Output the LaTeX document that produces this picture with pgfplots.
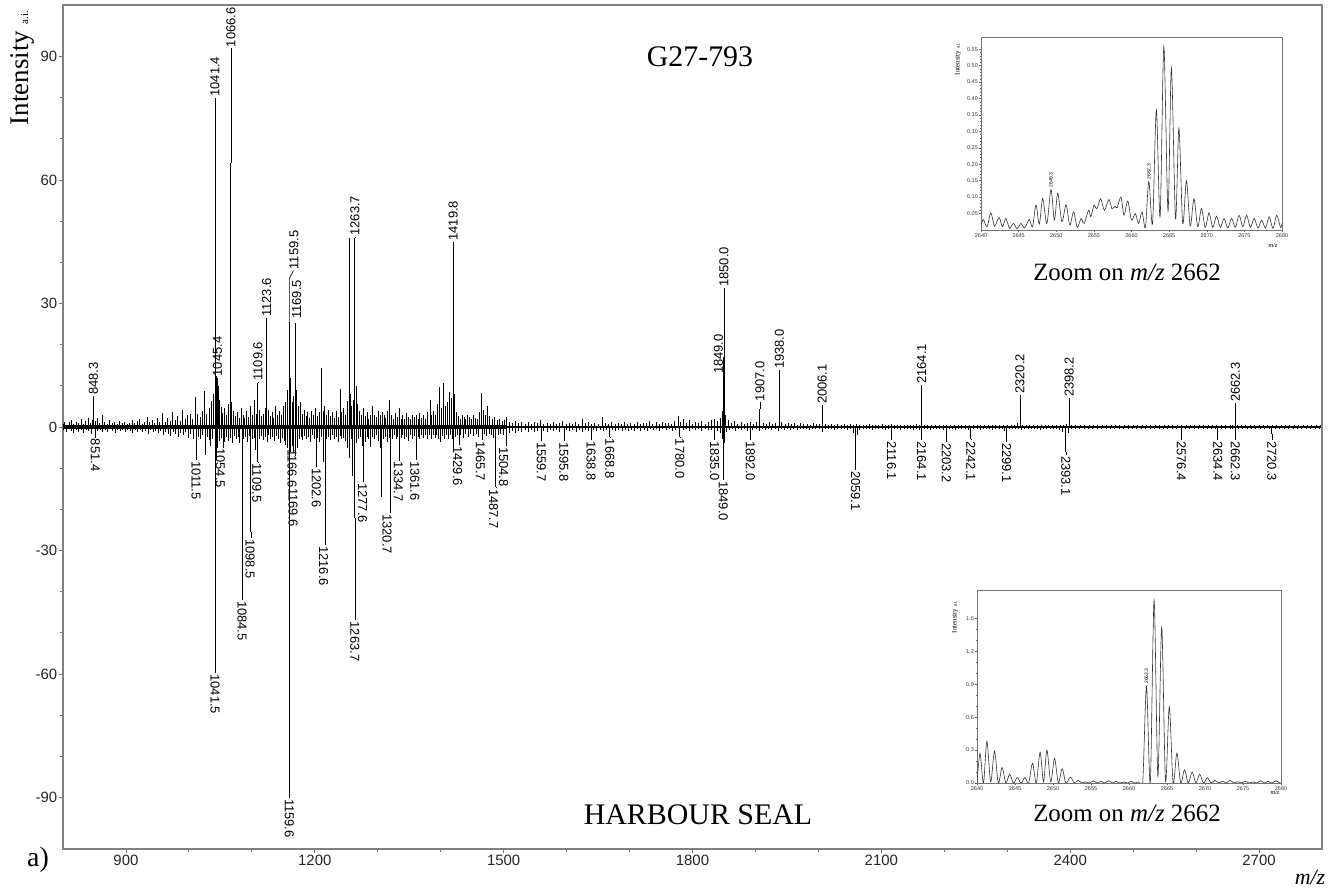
\documentclass[border=0pt]{standalone}
\usepackage{fontspec}
\setmainfont{Liberation Serif}
\newfontfamily\sans{Liberation Sans}
\usepackage{pgfplots}
\usepackage{pgfplotstable}
\pgfplotsset{compat=1.18}

\pgfplotstableread{
m h
800 0.8
803 1.3
807 0.6
810 1.1
814 1.6
817 0.7
821 1.2
825 0.9
829 1.9
832 0.8
836 1.4
840 2.3
843 1.0
846 1.8
848.3 7.0
851 1.5
855 2.2
858 0.9
862 3.0
866 1.2
870 0.8
874 1.6
878 1.0
882 1.3
886 0.7
890 1.5
894 0.9
898 1.2
902 0.8
906 1.0
910 1.8
914 0.9
918 1.4
922 2.0
926 0.8
930 1.3
934 2.5
938 1.1
942 1.6
946 0.9
950 2.1
954 1.3
958 3.3
962 1.1
966 2.3
970 1.5
974 3.6
978 1.8
982 2.7
986 1.4
990 4.2
994 2.0
998 2.8
1002 3.2
1006 2.0
1010 7.2
1014 3.1
1018 2.4
1022 4.0
1025 8.8
1028 3.2
1032 4.6
1036 6.2
1039 8.0
1041.4 47.0
1042.5 20.0
1043.5 12.5
1045.4 11.5
1046.5 10.0
1048 6.5
1051 4.8
1054 3.5
1057 4.6
1060 3.0
1063 5.5
1066.6 64.0
1068 6.0
1071 4.0
1074 2.6
1077 3.6
1080 2.2
1083 4.6
1086 3.0
1089 2.2
1092 3.8
1095 2.4
1098 5.0
1101 3.0
1104 6.5
1107 3.2
1109.6 10.8
1112 4.2
1115 2.6
1118 3.2
1121 4.5
1123.6 26.3
1126 4.2
1129 2.6
1132 3.6
1135 2.2
1138 5.0
1141 3.0
1144 4.0
1147 2.8
1150 5.2
1153 6.0
1156 9.0
1159.5 25.6
1161.5 12.0
1164 6.0
1166.5 7.5
1169.5 25.2
1171.5 9.0
1174 5.0
1177 6.0
1180 3.2
1183 4.2
1186 2.6
1189 3.6
1192 2.2
1195 4.0
1198 3.0
1201 4.5
1204 2.6
1207 3.6
1210 14.3
1213 4.0
1216 5.2
1219 3.0
1222 4.2
1225 2.6
1228 3.6
1231 2.2
1234 3.8
1237 2.4
1240 9.2
1243 3.6
1246 4.6
1249 3.0
1251.5 6.2
1254.6 45.8
1256.5 8.0
1259 5.0
1261.5 6.5
1263.7 46.0
1265.5 10.0
1268 5.5
1271 4.0
1274 3.0
1277 4.6
1280 2.6
1283 3.6
1286 2.0
1289 3.0
1292 5.0
1295 3.0
1298 2.4
1301 4.0
1304 2.8
1307 3.6
1310 3.0
1313 2.2
1316 4.0
1319 6.6
1322 3.0
1325 2.0
1328 3.4
1331 2.4
1334 4.6
1337 2.0
1340 3.0
1343 2.0
1346 3.4
1349 2.4
1352 2.0
1355 3.0
1358 2.4
1361 3.0
1364 2.0
1367 3.4
1370 2.2
1373 3.0
1376 2.0
1379 3.6
1383 6.6
1386 3.0
1389 4.0
1392 3.0
1395 5.6
1398 9.6
1401 4.6
1405 10.6
1408 5.0
1411 6.0
1414 8.6
1417 7.0
1419.8 44.6
1422 8.0
1425 3.6
1428 2.6
1431 2.0
1434 3.0
1437 2.4
1440 2.0
1443 3.0
1446 2.4
1449 2.0
1452 3.0
1455 2.2
1458 2.0
1461 3.6
1465 8.2
1468 4.2
1471 3.0
1475 5.2
1478 2.6
1482 2.0
1486 2.4
1490 1.6
1494 2.0
1498 1.4
1502 1.8
1505 2.4
1509 1.2
1514 1.0
1519 1.5
1524 0.9
1529 1.3
1534 0.8
1539 1.1
1544 0.7
1549 1.2
1554 0.9
1559 1.6
1564 0.8
1569 1.0
1574 0.7
1579 1.2
1584 0.8
1589 1.0
1594 1.4
1599 0.7
1604 1.0
1609 0.8
1614 1.1
1619 0.7
1625 2.0
1630 0.9
1635 1.2
1640 0.8
1645 1.0
1650 0.7
1657 2.5
1662 1.0
1667 0.8
1672 1.1
1677 0.7
1682 1.0
1687 0.8
1692 1.3
1697 0.7
1702 1.0
1707 0.8
1712 1.2
1717 0.7
1722 1.0
1727 0.9
1732 1.4
1737 0.8
1742 1.1
1747 0.7
1752 1.2
1757 0.9
1762 1.0
1767 0.7
1772 1.5
1777 2.6
1781 1.2
1786 2.0
1790 1.0
1795 1.6
1800 0.8
1805 1.2
1810 0.9
1815 1.4
1820 0.8
1825 1.1
1830 1.6
1835 2.0
1840 1.4
1844 2.2
1847 4.0
1849.0 17.0
1850.0 18.7
1851.5 8.0
1853 3.0
1857 1.6
1862 1.0
1867 1.4
1872 0.8
1877 1.1
1882 0.7
1887 1.0
1892 1.3
1897 0.8
1902 1.2
1907.0 4.3
1912 1.0
1917 0.8
1922 1.1
1927 0.7
1932 1.0
1938.0 12.5
1942 1.2
1947 0.8
1952 1.0
1957 0.7
1962 0.9
1967 0.6
1972 1.0
1977 0.7
1982 0.8
1987 0.6
1992 0.9
1997 0.7
2002 0.8
2006.1 3.8
2011 0.7
2016 0.6
2021 0.8
2026 0.5
2031 0.7
2036 0.6
2041 0.8
2046 0.5
2051 0.7
2056 0.6
2061 0.8
2066 0.5
2071 0.6
2076 0.5
2081 0.7
2086 0.5
2091 0.6
2096 0.5
2101 0.7
2106 0.5
2111 0.6
2116 0.8
2121 0.5
2126 0.6
2131 0.5
2136 0.6
2141 0.5
2146 0.6
2151 0.5
2156 0.7
2161 0.6
2164.1 4.6
2168 0.6
2174 0.4
2180 0.5
2186 0.4
2192 0.6
2198 0.4
2204 0.5
2210 0.4
2216 0.6
2222 0.4
2228 0.5
2234 0.4
2240 0.6
2246 0.4
2252 0.5
2258 0.4
2264 0.6
2270 0.4
2276 0.5
2282 0.4
2288 0.6
2294 0.4
2300 0.5
2306 0.4
2312 0.6
2316 0.9
2320.2 2.5
2324 0.6
2330 0.4
2336 0.5
2342 0.4
2348 0.6
2354 0.4
2360 0.5
2366 0.4
2372 0.6
2378 0.4
2384 0.5
2390 0.4
2394 0.8
2398.2 2.8
2402 0.6
2409 0.4
2416 0.5
2423 0.4
2430 0.5
2437 0.4
2444 0.5
2451 0.4
2458 0.5
2465 0.4
2472 0.5
2479 0.4
2486 0.5
2493 0.4
2500 0.5
2507 0.4
2514 0.5
2521 0.4
2528 0.5
2535 0.4
2542 0.5
2549 0.4
2556 0.5
2563 0.4
2570 0.5
2577 0.4
2584 0.5
2591 0.4
2598 0.5
2605 0.4
2612 0.5
2619 0.4
2626 0.5
2633 0.4
2640 0.5
2647 0.4
2654 0.5
2658 0.6
2662.3 1.8
2666 0.6
2672 0.4
2679 0.5
2686 0.4
2693 0.5
2700 0.4
2707 0.5
2714 0.4
2721 0.5
2728 0.4
2735 0.5
2742 0.4
2749 0.5
2756 0.4
2763 0.5
2770 0.4
2777 0.5
2784 0.4
2791 0.5
2798 0.4
}\posdata

\pgfplotstableread{
m h
801 -0.8
805 -1.2
809 -0.6
813 -1.0
817 -1.5
821 -0.7
825 -1.1
829 -0.8
833 -1.4
837 -0.7
841 -1.0
845 -1.6
851.4 -2.4
855 -1.0
859 -0.7
863 -1.3
867 -0.8
871 -1.1
875 -0.6
879 -1.0
883 -1.4
887 -0.7
891 -1.0
895 -0.8
899 -1.2
903 -0.7
907 -1.0
911 -1.5
915 -0.8
919 -1.1
923 -0.7
927 -1.3
931 -0.9
935 -1.6
939 -0.8
943 -1.2
947 -0.9
951 -1.5
955 -1.0
959 -2.0
963 -1.1
967 -1.6
971 -2.2
975 -1.2
979 -1.8
983 -2.5
987 -1.4
991 -2.0
995 -1.3
999 -2.6
1003 -1.8
1007 -3.0
1011.5 -7.8
1015 -2.4
1019 -3.0
1022 -2.0
1025.5 -6.8
1029 -2.5
1032 -3.2
1035 -4.5
1038 -3.0
1041.5 -42.0
1043 -8.0
1045 -5.0
1048 -3.5
1051 -2.6
1054.5 -4.8
1057 -3.6
1060 -2.4
1063 -3.4
1066 -2.6
1069 -3.8
1072 -2.2
1075 -3.0
1078 -2.4
1081 -4.0
1084.5 -27.0
1087 -3.0
1090 -2.4
1093 -3.6
1096 -2.2
1098.5 -25.5
1101 -3.0
1104 -2.6
1106 -5.5
1109.5 -8.4
1112 -3.0
1115 -2.2
1118 -3.2
1121 -2.4
1124 -3.6
1127 -2.0
1130 -3.0
1133 -2.4
1136 -3.4
1139 -2.2
1142 -3.0
1145 -4.0
1148 -2.6
1151 -3.4
1154 -4.4
1157 -5.0
1159.6 -68.0
1162 -6.0
1164 -4.6
1166.6 -6.2
1169.6 -7.0
1172 -5.0
1175 -3.0
1178 -2.4
1181 -3.2
1184 -2.2
1187 -3.0
1190 -2.4
1193 -3.6
1196 -2.0
1199 -3.0
1202.6 -9.0
1205 -2.6
1208 -3.6
1211 -2.4
1213.5 -8.5
1216.6 -28.5
1219 -3.0
1222 -2.4
1225 -3.2
1228 -2.0
1231 -3.0
1234 -2.4
1237 -3.6
1240 -2.2
1243 -3.0
1246 -2.6
1249 -3.4
1252 -5.0
1255 -7.5
1258 -3.0
1260.5 -12.0
1263.7 -22.0
1266 -4.0
1269 -3.0
1272 -2.4
1275 -4.5
1277.6 -13.2
1280 -3.6
1283 -2.4
1286 -3.0
1289 -4.8
1292 -2.4
1295 -3.0
1298 -2.0
1301 -3.4
1303.5 -5.0
1306 -17.0
1309 -3.0
1312 -2.4
1315 -3.6
1318 -2.6
1320.7 -6.5
1323 -3.0
1326 -2.0
1329 -3.0
1332 -2.4
1334.7 -8.0
1337 -2.6
1340 -2.0
1343 -3.0
1346 -2.4
1349 -3.4
1352 -2.0
1355 -2.8
1358 -2.2
1361.6 -7.8
1364 -2.4
1367 -3.0
1370 -2.0
1373 -2.6
1376 -2.0
1379 -2.8
1382 -2.0
1385 -3.0
1388 -2.0
1391 -2.6
1394 -2.0
1397 -2.8
1400 -3.6
1403 -2.2
1406 -3.0
1409 -2.0
1412 -2.8
1415 -2.0
1418 -3.0
1421 -5.0
1424 -2.4
1427 -2.0
1429.6 -4.2
1432 -2.0
1436 -2.6
1440 -1.8
1444 -2.4
1448 -1.6
1452 -2.2
1456 -1.8
1460 -2.4
1465.7 -3.0
1469 -1.8
1473 -2.2
1477 -1.6
1481 -2.0
1484 -2.6
1487.7 -14.6
1491 -2.0
1495 -1.6
1499 -2.0
1504.8 -4.4
1509 -1.4
1514 -1.0
1519 -1.4
1524 -0.9
1529 -1.2
1534 -0.8
1539 -1.1
1544 -0.8
1549 -1.2
1554 -0.9
1559.7 -3.2
1564 -0.9
1569 -1.1
1574 -0.7
1579 -1.0
1584 -0.8
1589 -1.1
1595.8 -3.2
1600 -0.8
1605 -1.0
1610 -0.7
1615 -1.1
1620 -0.8
1625 -1.2
1630 -0.8
1635 -1.0
1638.8 -3.0
1643 -0.8
1648 -1.0
1653 -0.7
1658 -1.0
1663 -0.8
1668.8 -2.4
1673 -0.8
1678 -1.0
1683 -0.7
1688 -0.9
1693 -0.7
1698 -1.0
1703 -0.7
1708 -0.9
1713 -0.6
1718 -0.9
1723 -0.7
1728 -1.0
1733 -0.6
1738 -0.8
1743 -0.6
1748 -0.9
1753 -0.6
1758 -0.8
1763 -0.6
1768 -0.9
1773 -0.7
1780.0 -2.4
1785 -0.8
1790 -0.6
1795 -0.9
1800 -0.6
1805 -0.8
1810 -0.6
1815 -0.9
1820 -0.6
1825 -0.8
1830 -0.7
1835.0 -3.0
1840 -1.0
1844 -1.4
1847 -3.0
1849.0 -10.5
1851 -4.0
1854 -1.2
1858 -0.8
1863 -0.6
1868 -0.9
1873 -0.6
1878 -0.8
1883 -0.6
1888 -0.9
1892.0 -3.0
1896 -0.8
1901 -0.6
1906 -1.0
1911 -0.6
1916 -0.8
1921 -0.5
1926 -0.7
1931 -0.5
1936 -0.9
1941 -0.5
1946 -0.7
1951 -0.5
1956 -0.8
1961 -0.5
1966 -0.7
1971 -0.5
1976 -0.6
1981 -0.5
1986 -0.8
1991 -0.5
1996 -0.6
2001 -0.5
2006 -1.2
2011 -0.5
2016 -0.6
2021 -0.5
2026 -0.7
2031 -0.5
2036 -0.6
2041 -0.5
2046 -0.8
2051 -0.6
2055 -1.5
2059.1 -9.0
2062 -2.0
2066 -0.7
2071 -0.5
2076 -0.6
2081 -0.5
2086 -0.7
2091 -0.5
2096 -0.6
2101 -0.5
2106 -0.7
2111 -0.6
2116.1 -3.0
2121 -0.6
2126 -0.5
2131 -0.7
2136 -0.5
2141 -0.6
2146 -0.5
2151 -0.7
2156 -0.5
2160 -0.8
2164.1 -3.0
2168 -0.6
2173 -0.5
2178 -0.7
2183 -0.5
2188 -0.6
2193 -0.5
2198 -0.8
2203.2 -3.4
2208 -0.6
2213 -0.5
2218 -0.7
2223 -0.5
2228 -0.6
2233 -0.5
2238 -0.8
2242.1 -3.0
2247 -0.6
2252 -0.5
2257 -0.7
2262 -0.5
2267 -0.6
2272 -0.5
2277 -0.7
2282 -0.5
2287 -0.6
2292 -0.5
2296 -0.9
2299.1 -3.4
2303 -0.6
2308 -0.5
2313 -0.6
2318 -0.5
2323 -0.7
2328 -0.5
2333 -0.6
2338 -0.5
2343 -0.6
2348 -0.5
2353 -0.7
2358 -0.5
2363 -0.6
2368 -0.5
2373 -0.6
2378 -0.5
2383 -0.7
2388 -1.2
2393.1 -6.0
2397 -1.5
2402 -0.6
2408 -0.5
2415 -0.6
2422 -0.5
2429 -0.6
2436 -0.5
2443 -0.6
2450 -0.5
2457 -0.6
2464 -0.5
2471 -0.6
2478 -0.5
2485 -0.6
2492 -0.5
2499 -0.6
2506 -0.5
2513 -0.6
2520 -0.5
2527 -0.6
2534 -0.5
2541 -0.6
2548 -0.5
2555 -0.6
2562 -0.5
2569 -0.6
2576.4 -1.8
2583 -0.5
2590 -0.6
2597 -0.5
2604 -0.6
2611 -0.5
2618 -0.6
2625 -0.5
2630 -0.6
2634.4 -1.8
2640 -0.5
2647 -0.6
2654 -0.5
2658 -0.6
2662.3 -2.0
2667 -0.5
2674 -0.6
2681 -0.5
2688 -0.6
2695 -0.5
2702 -0.6
2709 -0.5
2716 -0.6
2720.3 -1.6
2726 -0.5
2733 -0.6
2740 -0.5
2747 -0.6
2754 -0.5
2761 -0.6
2768 -0.5
2775 -0.6
2782 -0.5
2789 -0.6
2796 -0.5
}\negdata

\pgfplotstableread{
m h
2640.0 0.012
2640.3 0.032
2640.8 0.010
2641.3 0.052
2641.8 0.012
2642.4 0.038
2642.85 0.010
2643.3 0.035
2643.8 0.005
2644.3 0.020
2644.8 0.004
2645.3 0.020
2645.8 0.006
2646.4 0.032
2646.85 0.010
2647.3 0.076
2647.75 0.018
2648.2 0.096
2648.75 0.020
2649.3 0.123
2649.75 0.030
2650.2 0.112
2650.75 0.025
2651.3 0.077
2651.8 0.015
2652.3 0.055
2652.8 0.008
2653.3 0.035
2653.7 0.020
2654.3 0.060
2654.6 0.040
2655.0 0.075
2655.4 0.065
2655.9 0.095
2656.4 0.060
2657.0 0.093
2657.4 0.065
2657.8 0.072
2658.1 0.068
2658.6 0.100
2659.0 0.045
2659.5 0.088
2660.0 0.030
2660.5 0.050
2660.95 0.020
2661.4 0.055
2661.85 0.008
2662.3 0.148
2662.8 0.020
2663.3 0.365
2663.8 0.040
2664.3 0.557
2664.85 0.058
2665.3 0.493
2665.85 0.035
2666.3 0.310
2666.8 0.020
2667.3 0.150
2667.8 0.012
2668.3 0.095
2668.8 0.010
2669.3 0.065
2669.8 0.008
2670.3 0.052
2670.8 0.008
2671.3 0.042
2671.8 0.008
2672.3 0.035
2672.8 0.006
2673.3 0.035
2673.8 0.008
2674.3 0.045
2674.8 0.010
2675.3 0.045
2675.8 0.008
2676.3 0.035
2676.8 0.006
2677.3 0.030
2677.8 0.006
2678.3 0.040
2678.8 0.005
2679.3 0.045
2679.8 0.008
2680.0 0.020
}\zoomA

\pgfplotstableread{
m h
2640.0 0.0
2640.4 0.27
2640.85 0.0
2641.3 0.38
2641.8 0.01
2642.3 0.29
2642.8 0.0
2643.3 0.14
2643.8 0.0
2644.3 0.08
2644.8 0.0
2645.3 0.05
2645.8 0.0
2646.3 0.05
2646.8 0.0
2647.3 0.18
2647.8 0.0
2648.3 0.28
2648.75 0.01
2649.2 0.30
2649.7 0.01
2650.2 0.225
2650.7 0.0
2651.2 0.13
2651.7 0.0
2652.3 0.055
2652.8 0.0
2653.3 0.025
2653.8 0.0
2654.3 0.01
2654.8 0.0
2655.3 0.02
2655.8 0.0
2656.3 0.015
2656.8 0.0
2657.3 0.02
2657.8 0.0
2658.3 0.015
2658.8 0.0
2659.3 0.01
2659.8 0.0
2660.3 0.015
2660.8 0.0
2661.3 0.01
2661.8 0.0
2662.3 0.88
2662.8 0.0
2663.3 1.667
2663.8 0.06
2664.3 1.418
2664.8 0.02
2665.3 0.694
2665.8 0.0
2666.3 0.274
2666.8 0.0
2667.3 0.12
2667.8 0.0
2668.3 0.10
2668.8 0.0
2669.3 0.08
2669.8 0.0
2670.3 0.05
2670.8 0.0
2671.3 0.025
2671.8 0.0
2672.3 0.015
2672.8 0.0
2673.3 0.025
2673.8 0.0
2674.3 0.012
2674.8 0.0
2675.3 0.015
2675.8 0.0
2676.3 0.01
2676.8 0.0
2677.3 0.02
2677.8 0.0
2678.3 0.015
2678.8 0.0
2679.3 0.02
2679.8 0.0
2680.0 0.0
}\zoomB

\tikzset{
  leader/.style={black, line width=0.6bp},
  plab/.style={font=\sans\fontsize{13}{13}\selectfont, inner sep=1bp, text=black},
}
\newcommand{\plab}[4]{\draw[leader] (axis cs:#1,#2) -- (axis cs:#1,#3);
  \node[plab, rotate=90, anchor=west] at (axis cs:#1,#3) {#4};}
\newcommand{\nlab}[4]{\draw[leader] (axis cs:#1,#2) -- (axis cs:#1,#3);
  \node[plab, rotate=-90, anchor=west] at (axis cs:#1,#3) {#4};}
\newcommand{\nlabx}[5]{\draw[leader] (axis cs:#1,#2) -- (axis cs:#1,#4);
  \node[plab, rotate=-90, anchor=west] at (axis cs:#3,#4) {#5};}

\pgfplotsset{
  inset/.style={
    scale only axis,
    axis background/.style={fill=white},
    tick pos=left, tick align=outside,
    axis line style={black!55, line width=0.7bp},
    major tick length=2bp, minor tick length=1.2bp,
    tick style={black!60, line width=0.4bp},
    ticklabel style={font=\sans\fontsize{5.5}{5.5}\selectfont, inner sep=1bp, text=black!80},
    /pgf/number format/assume math mode=true,
    /pgf/number format/1000 sep={},
    xtick={2640,2645,...,2680}, minor x tick num=4,
    xmin=2640, xmax=2680,
  }
}

\begin{document}
\begin{tikzpicture}
\path[use as bounding box] (-63bp,-39bp) rectangle (1265bp,849bp);
\begin{axis}[
  at={(0bp,0bp)}, anchor=south west,
  scale only axis, width=1259bp, height=844bp,
  xmin=800, xmax=2800, ymin=-102.5, ymax=102.5,
  xtick={900,1200,1500,1800,2100,2400,2700}, minor x tick num=2,
  ytick={-90,-60,-30,0,30,60,90}, minor y tick num=2,
  tick pos=left, tick align=outside,
  axis line style={black!50, line width=1.1bp},
  major tick length=4bp, minor tick length=3bp,
  tick style={black!55, line width=0.8bp},
  ticklabel style={font=\sans\fontsize{15}{15}\selectfont, inner sep=1.5bp, text=black!85},
  /pgf/number format/assume math mode=true,
  /pgf/number format/1000 sep={},
]
\addplot[black, line width=1.6bp] coordinates {(800,0) (2798,0)};
\addplot[black, line width=3.2bp] coordinates {(800,0) (1505,0)};
\addplot[ycomb, black, line width=0.9bp, mark=none] table[x=m, y=h] {\posdata};
\addplot[ycomb, black, line width=0.9bp, mark=none] table[x=m, y=h] {\negdata};

% positive labels
\plab{848.3}{7.0}{7.5}{848.3}
\plab{1041.4}{47}{80}{1041.4}
\plab{1045.4}{11.5}{12}{1045.4}
\plab{1066.6}{64}{92}{1066.6}
\plab{1109.6}{10.8}{11}{1109.6}
\plab{1123.6}{26.3}{26.5}{1123.6}
\draw[leader] (axis cs:1159.5,25.6) -- (axis cs:1159.5,36) -- (axis cs:1166,38);
\node[plab, rotate=90, anchor=west] at (axis cs:1167,38) {1159.5};
\node[plab, rotate=90, anchor=west] at (axis cs:1171,26) {1169.5};
\plab{1263.7}{46}{46.2}{1263.7}
\plab{1419.8}{44.6}{45}{1419.8}
\plab{1850.0}{18.7}{33.8}{1850.0}
\node[plab, rotate=90, anchor=west] at (axis cs:1841,12.6) {1849.0};
\plab{1907.0}{4.3}{6}{1907.0}
\plab{1938.0}{12.5}{13.8}{1938.0}
\plab{2006.1}{3.8}{5.3}{2006.1}
\plab{2164.1}{4.6}{10.2}{2164.1}
\plab{2320.2}{2.5}{7.8}{2320.2}
\plab{2398.2}{2.8}{7}{2398.2}
\plab{2662.3}{1.8}{5.8}{2662.3}

% negative labels
\nlab{851.4}{-2.4}{-2.6}{851.4}
\nlab{1011.5}{-7.8}{-8}{1011.5}
\nlabx{1054.5}{-4.8}{1050}{-4.9}{1054.5}
\nlab{1041.5}{-42}{-59.8}{1041.5}
\nlab{1084.5}{-27}{-42}{1084.5}
\nlabx{1098.5}{-25.5}{1097}{-27}{1098.5}
\nlabx{1109.5}{-8.4}{1108}{-8.6}{1109.5}
\node[plab, rotate=-90, anchor=west] at (axis cs:1164,-5.1) {1166.6};
\node[plab, rotate=-90, anchor=west] at (axis cs:1165.5,-14.6) {1169.6};
\nlab{1159.6}{-68}{-90.1}{1159.6}
\nlab{1202.6}{-9}{-9.7}{1202.6}
\nlabx{1216.6}{-28.5}{1214}{-28.7}{1216.6}
\nlab{1263.7}{-22}{-47}{1263.7}
\nlabx{1277.6}{-13.2}{1276}{-13.4}{1277.6}
\nlabx{1320.7}{-6.5}{1315}{-20.9}{1320.7}
\nlabx{1334.7}{-8}{1332.5}{-8.2}{1334.7}
\nlabx{1361.6}{-7.8}{1359}{-8}{1361.6}
\nlabx{1429.6}{-4.2}{1427}{-4.4}{1429.6}
\nlabx{1465.7}{-3}{1463}{-3.2}{1465.7}
\nlabx{1487.7}{-14.6}{1484}{-14.8}{1487.7}
\nlabx{1504.8}{-4.4}{1500}{-4.6}{1504.8}
\nlab{1559.7}{-3.2}{-3.4}{1559.7}
\nlab{1595.8}{-3.2}{-3.4}{1595.8}
\nlab{1638.8}{-3.0}{-3.2}{1638.8}
\nlab{1668.8}{-2.4}{-2.6}{1668.8}
\nlab{1780.0}{-2.4}{-2.6}{1780.0}
\nlab{1835.0}{-3.0}{-3.2}{1835.0}
\nlab{1849.0}{-10.5}{-12.9}{1849.0}
\nlab{1892.0}{-3.0}{-3.2}{1892.0}
\nlab{2059.1}{-9.0}{-10.4}{2059.1}
\nlab{2116.1}{-3.0}{-3.2}{2116.1}
\nlab{2164.1}{-3.0}{-3.2}{2164.1}
\nlab{2203.2}{-3.4}{-3.6}{2203.2}
\nlab{2242.1}{-3.0}{-3.2}{2242.1}
\nlab{2299.1}{-3.4}{-3.6}{2299.1}
\nlab{2393.1}{-6.0}{-6.8}{2393.1}
\nlab{2576.4}{-1.8}{-3.2}{2576.4}
\nlab{2634.4}{-1.8}{-3.2}{2634.4}
\nlab{2662.3}{-2.0}{-3.2}{2662.3}
\nlab{2720.3}{-1.6}{-3.2}{2720.3}
\end{axis}

% main texts
\node[font=\fontsize{30}{30}\selectfont] at (637bp,792bp) {G27-793};
\node[font=\fontsize{30}{30}\selectfont] at (635bp,34bp) {HARBOUR SEAL};
\node[rotate=90, font=\fontsize{27}{27}\selectfont] at (-41bp,781bp) {Intensity {\fontsize{11}{11}\selectfont a.i.}};
\node[font=\fontsize{28}{28}\selectfont] at (-25bp,-11bp) {a)};
\node[font=\fontsize{22}{22}\selectfont\itshape] at (1247bp,-28bp) {m/z};

% top inset
\begin{axis}[inset,
  at={(918bp,619bp)}, anchor=south west,
  width=301bp, height=193bp,
  ymin=0, ymax=0.587,
  ytick={0.05,0.1,0.15,0.2,0.25,0.3,0.35,0.4,0.45,0.5,0.55}, minor y tick num=4,
  yticklabel style={/pgf/number format/.cd, fixed, fixed zerofill, precision=2},
]
\addplot[smooth, tension=0.5, black!80, line width=0.6bp] table[x=m, y=h] {\zoomA};
\node[font=\sans\fontsize{5}{5}\selectfont, rotate=90, anchor=west, inner sep=0.5bp] at (axis cs:2649.3,0.127) {2649.3};
\node[font=\sans\fontsize{5}{5}\selectfont, rotate=90, anchor=west, inner sep=0.5bp] at (axis cs:2662.3,0.152) {2662.3};
\end{axis}
\node[rotate=90, font=\fontsize{7}{7}\selectfont] at (895bp,790bp) {Intensity {\fontsize{5}{5}\selectfont a.i.}};
\node[font=\fontsize{6.5}{6.5}\selectfont\itshape] at (1210bp,604bp) {m/z};
\node[font=\fontsize{25}{25}\selectfont] at (1064bp,577bp) {Zoom on \textit{m/z} 2662};

% bottom inset
\begin{axis}[inset,
  at={(914bp,66bp)}, anchor=south west,
  width=304bp, height=193bp,
  ymin=0, ymax=1.76,
  ytick={0,0.3,0.6,0.9,1.2,1.5}, minor y tick num=2,
  yticklabel style={/pgf/number format/.cd, fixed, fixed zerofill, precision=1},
]
\addplot[smooth, tension=0.5, black!80, line width=0.6bp] table[x=m, y=h] {\zoomB};
\node[font=\sans\fontsize{5}{5}\selectfont, rotate=90, anchor=west, inner sep=0.5bp] at (axis cs:2662.3,0.9) {2662.3};
\end{axis}
\node[rotate=90, font=\fontsize{7}{7}\selectfont] at (892bp,232bp) {Intensity {\fontsize{5}{5}\selectfont a.i.}};
\node[font=\fontsize{6.5}{6.5}\selectfont\itshape] at (1212bp,57bp) {m/z};
\node[font=\fontsize{25}{25}\selectfont] at (1064bp,36bp) {Zoom on \textit{m/z} 2662};
\end{tikzpicture}
\end{document}
